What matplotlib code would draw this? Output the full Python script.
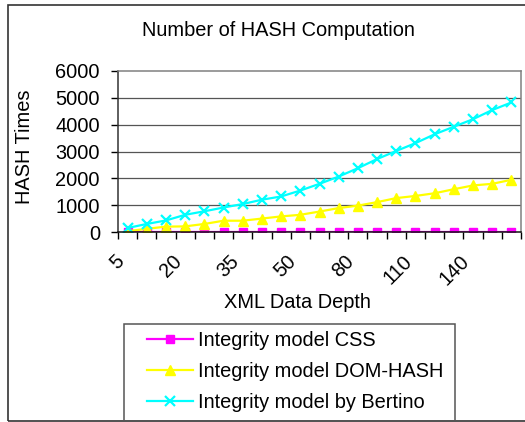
import matplotlib
matplotlib.use("Agg")
import matplotlib.pyplot as plt
from matplotlib.patches import Rectangle

plt.rcParams['font.family'] = ['Liberation Sans', 'DejaVu Sans']

# data
depths = [5, 10, 15, 20, 25, 30, 35, 40, 45, 50, 60, 70, 80, 90, 100,
          110, 120, 130, 140, 150, 160]
css = [20, 20, 20, 20, 20, 20, 20, 20, 20, 20, 20, 20, 20, 20, 20,
       20, 20, 20, 20, 20, 20]
dom_hash = [40, 130, 210, 220, 310, 430, 430, 510, 590, 650, 770, 900,
            990, 1120, 1270, 1350, 1450, 1600, 1740, 1800, 1950]
bertino = [160, 310, 440, 650, 780, 920, 1050, 1210, 1330, 1550, 1800,
           2070, 2380, 2720, 3020, 3310, 3640, 3920, 4200, 4540, 4820]
labels = ['Integrity model CSS', 'Integrity model DOM-HASH',
          'Integrity model by Bertino']
y_ticks = [0, 1000, 2000, 3000, 4000, 5000, 6000]

W, H = 525, 422
fig = plt.figure(figsize=(W / 100, H / 100), dpi=100)
fs = 14.4

# outer chart frame
fig.patches.append(Rectangle((8 / W, 1 - 421 / H), 530 / W, 416 / H,
                             transform=fig.transFigure, fill=False,
                             edgecolor='#333333', linewidth=1.2))

ax = fig.add_axes([118 / W, 1 - 232.3 / H, 403 / W, 161.6 / H])
x = list(range(len(depths)))
ax.plot(x, css, color='#FF00FF', marker='s', markersize=5.5, linewidth=1.6,
        label=labels[0])
ax.plot(x, dom_hash, color='#FFFF00', marker='^', markersize=7, linewidth=1.6,
        label=labels[1])
ax.plot(x, bertino, color='#00FFFF', marker='x', markersize=7,
        markeredgewidth=1.6, linewidth=1.6, label=labels[2])

ax.set_xlim(-0.5, len(depths) - 0.5)
ax.set_ylim(0, 6000)
ax.set_yticks(y_ticks)
ax.set_yticklabels([str(v) for v in y_ticks], fontsize=fs)
for v in y_ticks[1:-1]:
    ax.axhline(v, color='#555555', linewidth=0.9, zorder=0)

ax.set_xticks(x[::3])
ax.set_xticklabels([str(d) for d in depths[::3]], fontsize=fs,
                   rotation=45, ha='right', va='top')
ax.set_xticks([i - 0.5 for i in range(len(depths) + 1)], minor=True)
ax.tick_params(axis='x', which='major', length=0, pad=14)
ax.tick_params(axis='x', which='minor', length=5, width=1, direction='out')
ax.tick_params(axis='y', length=5, width=1, direction='out', pad=8)

ax.spines['left'].set_color('#333333')
ax.spines['bottom'].set_color('#111111')
ax.spines['top'].set_color('#808080')
ax.spines['right'].set_color('#808080')
for s in ax.spines.values():
    s.set_linewidth(1.1)

fig.text(278 / W, 1 - 30 / H, 'Number of HASH Computation', fontsize=fs,
         ha='center', va='center')
fig.text(25 / W, 1 - 147 / H, 'HASH Times', fontsize=fs, rotation=90,
         ha='center', va='center')
fig.text(297 / W, 1 - 303 / H, 'XML Data Depth', fontsize=fs,
         ha='center', va='center')

# legend box
fig.patches.append(Rectangle((124 / W, 1 - 421 / H), 331 / W, 97 / H,
                             transform=fig.transFigure, fill=False,
                             edgecolor='#555555', linewidth=1.1))
fig.legend(loc='upper left', bbox_to_anchor=(147 / W, 1 - 331 / H),
           frameon=False, fontsize=fs, borderpad=0, borderaxespad=0,
           handlelength=2.3, handletextpad=0.25, labelspacing=0.6)

fig.savefig('out.png', dpi=100)
